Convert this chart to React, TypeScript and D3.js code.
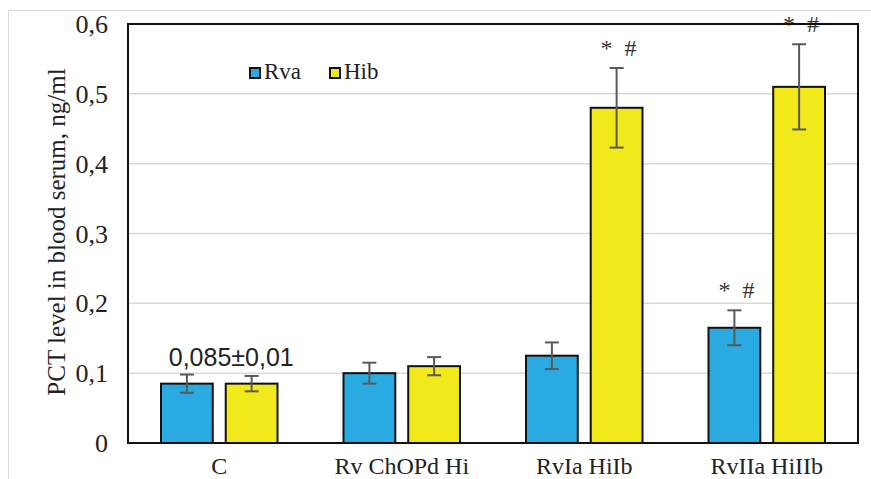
import React from "react";
import * as d3 from "d3";

const categories = ["C", "Rv ChOPd Hi", "RvIa HiIb", "RvIIa HiIIb"];
const seriesNames = ["Rva", "Hib"];
const rvaValues = [0.085, 0.1, 0.125, 0.165];
const rvaErrors = [0.013, 0.015, 0.019, 0.025];
const hibValues = [0.085, 0.11, 0.48, 0.51];
const hibErrors = [0.011, 0.013, 0.057, 0.061];
const rvaMarks = ["", "", "", "* #"];
const hibMarks = ["", "", "* #", "* #"];
const yTicks = [0, 0.1, 0.2, 0.3, 0.4, 0.5, 0.6];
const colors = ["#29aae1", "#f1e919"];

const W = 871;
const H = 479;
const margin = { top: 24, right: 13, bottom: 36, left: 128 };
const fmt = (v: number) => (v === 0 ? "0" : v.toFixed(1).replace(".", ","));

export default function App() {
  const innerW = W - margin.left - margin.right;
  const innerH = H - margin.top - margin.bottom;

  const x = d3.scaleBand<string>().domain(categories).range([0, innerW]).paddingInner(0).paddingOuter(0);
  const sub = d3.scaleBand<string>().domain(seriesNames).range([33, x.bandwidth() - 33]).paddingInner(0.2);
  const y = d3.scaleLinear().domain([0, 0.6]).range([innerH, 0]);

  const series = [
    { name: seriesNames[0], values: rvaValues, errors: rvaErrors, marks: rvaMarks, color: colors[0] },
    { name: seriesNames[1], values: hibValues, errors: hibErrors, marks: hibMarks, color: colors[1] },
  ];

  return (
    <svg width={W} height={H} style={{ position: "absolute", left: 0, top: 0 }}>
      <rect width={W} height={H} fill="#fff" />
      {/* outer chart border */}
      <line x1={8.5} x2={8.5} y1={10} y2={H} stroke="#d9d9d9" />
      <line x1={8} x2={W} y1={10.5} y2={10.5} stroke="#d9d9d9" />

      <g transform={`translate(${margin.left},${margin.top})`}>
        {yTicks.slice(1, -1).map((t) => (
          <line key={t} x1={0} x2={innerW} y1={y(t)} y2={y(t)} stroke="#d9d9d9" strokeWidth={1.5} />
        ))}
        {yTicks.map((t) => (
          <text key={t} x={-20} y={y(t)} dy="0.35em" textAnchor="end"
            fontFamily="Liberation Serif" fontSize={26} fill="#222">{fmt(t)}</text>
        ))}

        {series.map((s) =>
          categories.map((c, i) => {
            const bx = (x(c) ?? 0) + (sub(s.name) ?? 0);
            const bw = sub.bandwidth();
            const cx = bx + bw / 2;
            const top = y(s.values[i] + s.errors[i]);
            const bot = y(s.values[i] - s.errors[i]);
            return (
              <g key={s.name + c}>
                <rect x={bx} y={y(s.values[i])} width={bw} height={innerH - y(s.values[i])}
                  fill={s.color} stroke="#111" strokeWidth={2} />
                <line x1={cx} x2={cx} y1={top} y2={bot} stroke="#595959" strokeWidth={2} />
                <line x1={cx - 7} x2={cx + 7} y1={top} y2={top} stroke="#595959" strokeWidth={2} />
                <line x1={cx - 7} x2={cx + 7} y1={bot} y2={bot} stroke="#595959" strokeWidth={2} />
                {s.marks[i] && (
                  <text x={cx + 2} y={top - 12} textAnchor="middle" fontFamily="Liberation Serif"
                    fontSize={24} fill="#333" style={{ whiteSpace: "pre" }}>{"*  #"}</text>
                )}
              </g>
            );
          })
        )}

        <text x={(x(categories[0]) ?? 0) + x.bandwidth() / 2 + 12} y={y(0.085 + 0.013) - 9}
          textAnchor="middle" fontFamily="Liberation Sans" fontSize={25} fill="#222">0,085±0,01</text>

        {categories.map((c) => (
          <text key={c} x={(x(c) ?? 0) + x.bandwidth() / 2} y={innerH + 31} textAnchor="middle"
            fontFamily="Liberation Serif" fontSize={24} fill="#222">{c}</text>
        ))}

        <rect x={0} y={0} width={innerW} height={innerH} fill="none" stroke="#111" strokeWidth={2} />

        {/* legend */}
        {series.map((s, i) => (
          <g key={s.name} transform={`translate(${122 + i * 80},${44})`}>
            <rect x={0} y={0} width={10} height={10} fill={s.color} stroke="#111" strokeWidth={2} />
            <text x={14} y={11} fontFamily="Liberation Serif" fontSize={23} fill="#222">{s.name}</text>
          </g>
        ))}
      </g>

      <text transform={`translate(56,${232}) rotate(-90)`} textAnchor="middle" dy="0.35em"
        fontFamily="Liberation Serif" fontSize={25} fill="#222">PCT level in blood serum, ng/ml</text>
    </svg>
  );
}
